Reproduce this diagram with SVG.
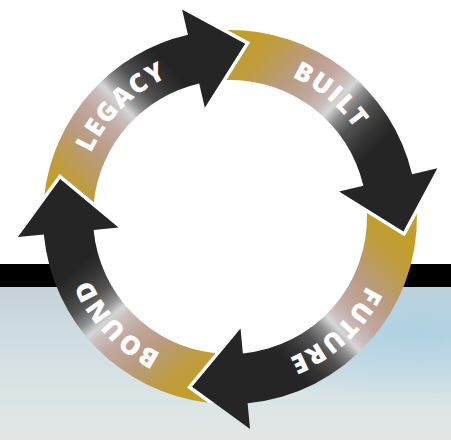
<svg xmlns="http://www.w3.org/2000/svg" width="451" height="440" viewBox="0 0 451 440">
  <defs>
    <style>
      .lbl{font-family:"Open Sans","DejaVu Sans",sans-serif;font-weight:800;font-size:26px;fill:#ffffff;letter-spacing:1.5px}
      .gap{fill:#ffffff}
    </style>
    <linearGradient id="sky" x1="0" y1="287" x2="0" y2="440" gradientUnits="userSpaceOnUse">
      <stop offset="0" stop-color="#c6d2d6"/>
      <stop offset="0.35" stop-color="#d0dde2"/>
      <stop offset="0.75" stop-color="#dce5e6"/>
      <stop offset="1" stop-color="#e2e7e4"/>
    </linearGradient>
    <radialGradient id="skyblue" cx="420" cy="330" r="150" gradientUnits="userSpaceOnUse" gradientTransform="translate(420 330) scale(1.6 0.5) translate(-420 -330)">
      <stop offset="0" stop-color="#a8cfe4" stop-opacity="0.85"/>
      <stop offset="1" stop-color="#a8cfe4" stop-opacity="0"/>
    </radialGradient>
    <linearGradient id="gLegacy" gradientUnits="userSpaceOnUse" x1="38.34" y1="176.88" x2="160.63" y2="58.79">
      <stop offset="0" stop-color="#c29e2b"/>
      <stop offset="0.15" stop-color="#bf9c40"/>
      <stop offset="0.34" stop-color="#b99b80"/>
      <stop offset="0.5" stop-color="#c1a79f"/>
      <stop offset="0.6" stop-color="#cac0be"/>
      <stop offset="0.647" stop-color="#d6d6d6"/>
      <stop offset="0.71" stop-color="#8f8f8f"/>
      <stop offset="0.8" stop-color="#525252"/>
      <stop offset="0.92" stop-color="#323232"/>
      <stop offset="1" stop-color="#252525"/>
    </linearGradient>
    <linearGradient id="gBuilt" gradientUnits="userSpaceOnUse" x1="260.03" y1="23.50" x2="384.36" y2="139.44" href="#gLegacy"/>
    <linearGradient id="gFuture" gradientUnits="userSpaceOnUse" x1="421.66" y1="257.12" x2="299.37" y2="375.21" href="#gLegacy"/>
    <linearGradient id="gBound" gradientUnits="userSpaceOnUse" x1="176.61" y1="405.39" x2="67.33" y2="275.17" href="#gLegacy"/>
    <path id="ring" d="M77,217 A153,153 0 1 1 383,217 A153,153 0 1 1 77,217"/>
  </defs>

  <g id="background">
    <rect x="0" y="0" width="451" height="440" fill="#ffffff"/>
    <rect x="0" y="287" width="451" height="153" fill="url(#sky)"/>
    <rect x="0" y="287" width="451" height="153" fill="url(#skyblue)"/>
    <rect x="0" y="264" width="451" height="23" fill="#000000"/>
    <circle cx="230" cy="217" r="138" fill="#ffffff"/>
  </g>

  <g id="connectors">
    <polygon class="gap" points="227.32,30.02 250.15,42.36 226.49,80.05 199.18,83.51 187.93,34.79"/>
    <polygon class="gap" points="416.97,213.67 404.71,236.54 366.94,213.01 363.38,185.72 412.06,174.30"/>
    <polygon class="gap" points="207.92,402.69 186.93,387.44 215.37,353.22 242.89,353.39 247.60,403.17"/>
    <polygon class="gap" points="44.31,194.92 59.56,173.93 93.78,202.37 93.61,229.89 43.83,234.60"/>
  </g>

  <g id="node-legacy">
    <path fill="url(#gLegacy)" d="M44.31,194.92 A187,187 0 0 1 187.93,34.79 L182.09,9.46 L245.17,43.66 L204.81,107.87 L199.18,83.51 A137,137 0 0 0 93.78,202.37 L59.56,173.93 Z"/>
    <text class="lbl"><textPath href="#ring" startOffset="12.6%" text-anchor="middle">LEGACY</textPath></text>
  </g>

  <g id="node-built">
    <path fill="url(#gBuilt)" d="M227.32,30.02 A187,187 0 0 1 412.06,174.30 L437.37,168.36 L403.39,231.56 L339.04,191.42 L363.38,185.72 A137,137 0 0 0 226.49,80.05 L250.15,42.36 Z"/>
    <text class="lbl"><textPath href="#ring" startOffset="36%" text-anchor="middle">BUILT</textPath></text>
  </g>

  <g id="node-future">
    <path fill="url(#gFuture)" d="M416.97,213.67 A187,187 0 0 1 247.60,403.17 L250.05,429.05 L192.04,386.81 L240.54,328.50 L242.89,353.39 A137,137 0 0 0 366.94,213.01 L404.71,236.54 Z"/>
    <text class="lbl"><textPath href="#ring" startOffset="63.1%" text-anchor="middle">FUTURE</textPath></text>
  </g>

  <g id="node-bound">
    <path fill="url(#gBound)" d="M207.92,402.69 A187,187 0 0 1 43.83,234.60 L17.95,237.05 L60.19,179.04 L118.50,227.54 L93.61,229.89 A137,137 0 0 0 215.37,353.22 L186.93,387.44 Z"/>
    <text class="lbl"><textPath href="#ring" startOffset="88%" text-anchor="middle">BOUND</textPath></text>
  </g>
</svg>
